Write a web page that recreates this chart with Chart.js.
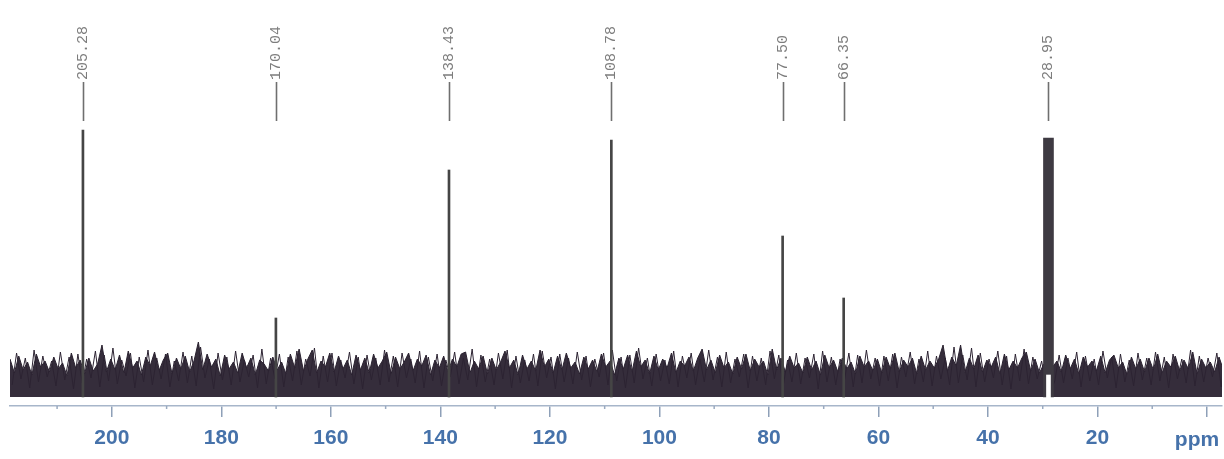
<!doctype html>
<html lang="en">
<head>
  <meta charset="utf-8">
  <title>13C NMR spectrum</title>
  <style>
    html, body { margin: 0; padding: 0; background: #fff; }
    #spectrum { display: block; }
  </style>
</head>
<body>
  <canvas id="spectrum" width="1224" height="459"></canvas>

  <script src="https://cdn.jsdelivr.net/npm/chart.js@4/dist/chart.umd.min.js"></script>
  <script>
  // peak positions (ppm) and heights
  const peakPpm    = [205.28, 170.04, 138.43, 108.78, 77.50, 66.35];
  const peakHeight = [267, 79, 227, 257, 161, 99];
  const peakLabels = ['205.28', '170.04', '138.43', '108.78', '77.50', '66.35', '28.95'];

  // the broad signal near 29 ppm
  const bigPpm = 28.95;
  const bigHeight = 259;
  const bigGapTop = 22;   // white notch under it

  // baseline noise, sampled every noiseStep ppm from noiseStart downwards
  const noiseStart = 218.6;
  const noiseStep = 0.8;
  // envelope of the dark band
  const noise = [
    38,24,41,27,35,22,43,30,36,25,40,28,34,21,44,29,37,23,39,26,
    33,52,25,38,27,42,24,46,29,36,22,40,31,45,26,37,44,23,39,28,
    41,25,36,55,27,43,30,38,21,42,28,35,24,44,29,39,22,37,33,26,
    40,27,35,23,43,29,48,26,38,47,24,36,30,44,25,41,28,37,22,42,
    27,39,24,43,29,36,45,23,40,28,35,44,26,38,31,42,22,37,29,41,
    25,38,30,43,45,24,36,28,41,23,39,27,35,46,29,37,22,42,28,36,
    26,47,30,38,24,41,27,44,29,35,23,40,28,37,25,43,30,36,22,39,
    28,42,25,46,30,37,23,41,27,38,29,44,24,36,31,40,26,39,48,27,
    37,24,42,29,35,23,40,28,43,26,38,30,36,22,48,27,39,25,41,29,
    34,24,40,27,36,22,42,29,37,25,39,28,35,23,41,30,36,26,38,24,
    40,28,44,25,37,30,39,23,41,27,36,29,38,52,26,40,31,52,24,39,
    28,42,25,37,30,40,23,43,27,36,29,39,45,26,38,24,33,10,30,36,
    25,42,28,38,23,40,30,36,26,41,24,37,42,29,35,22,40,28,38,25,
    39,27,43,24,36,30,41,26,37,28,45,23,38,29,35,25,40,27,36,30
  ];
  // in-between samples (half a step later), drawn as a plain trace
  const noiseMid = [
    12,44,18,39,9,47,15,41,20,36,11,45,17,40,8,43,14,38,19,46,
    10,42,16,49,13,37,21,44,9,40,15,47,12,39,18,43,10,36,16,45,
    14,41,11,50,19,38,8,44,17,40,12,46,15,37,20,42,9,48,13,39,
    18,43,10,40,16,46,12,38,21,49,9,41,15,44,11,37,19,45,13,40,
    8,42,17,39,12,47,15,41,10,44,19,38,14,46,9,40,16,43,11,37,
    20,45,13,39,17,48,10,42,15,38,12,44,18,47,9,41,14,37,16,43,
    11,46,19,40,8,43,15,39,13,45,17,41,10,38,20,44,12,47,16,40,
    9,42,14,49,18,39,11,43,16,37,13,46,10,41,19,44,12,38,15,47,
    17,40,10,45,14,38,20,43,9,41,16,39,12,46,18,42,11,37,15,44,
    13,39,19,43,8,46,15,40,12,38,17,44,10,42,14,47,18,39,11,41,
    16,43,9,40,20,45,13,38,15,46,11,41,18,39,12,50,14,42,17,49,
    10,44,15,38,19,46,12,41,8,43,16,48,13,40,18,36,12,5,16,42,
    14,39,18,45,10,41,16,38,12,46,19,40,9,43,15,37,11,44,17,39,
    12,45,16,40,9,43,18,38,14,47,11,41,15,39,20,44,10,40,13,46
  ];

  const majorTicks = [200, 180, 160, 140, 120, 100, 80, 60, 40, 20, 0];
  const minorTicks = [210, 190, 170, 150, 130, 110, 90, 70, 50, 30, 10];
  const unitLabel = 'ppm';

  const noiseData = noise.map((v, i) => ({ x: noiseStart - i * noiseStep, y: v }));
  const noiseMidData = noiseMid.map((v, i) => ({ x: noiseStart - (i + 0.5) * noiseStep, y: v }));
  const peakData = peakPpm.map((p, i) => ({ x: p, y: peakHeight[i] }));
  const labelPpm = peakPpm.concat([bigPpm]);

  const tickFont = { family: 'Liberation Sans, Arial, sans-serif', size: 21, weight: 'bold' };
  const tickColor = '#4672aa';

  const decorations = {
    id: 'decorations',
    afterDraw(chart) {
      const ctx = chart.ctx;
      const xs = chart.scales.x;
      const top = chart.chartArea.top;
      ctx.save();

      // minor ticks on the axis
      ctx.strokeStyle = '#9aaac0';
      ctx.lineWidth = 1.5;
      minorTicks.forEach(v => {
        const px = xs.getPixelForValue(v);
        ctx.beginPath();
        ctx.moveTo(px, xs.top);
        ctx.lineTo(px, xs.top + 3);
        ctx.stroke();
      });

      // axis unit where the 0 label would be, on the number baseline
      ctx.fillStyle = tickColor;
      ctx.font = 'bold 21px "Liberation Sans", Arial, sans-serif';
      ctx.textAlign = 'center';
      ctx.textBaseline = 'alphabetic';
      ctx.fillText(unitLabel, xs.getPixelForValue(0) - 10, xs.top + 40);

      // peak labels: short leader line plus rotated value
      ctx.strokeStyle = '#6f6f6f';
      ctx.lineWidth = 1.6;
      ctx.fillStyle = '#7d7d7d';
      ctx.font = '15px "Liberation Mono", "DejaVu Sans Mono", monospace';
      labelPpm.forEach((p, i) => {
        const px = Math.round(xs.getPixelForValue(p)) + 0.5;
        ctx.beginPath();
        ctx.moveTo(px, top - 15);
        ctx.lineTo(px, top + 24);
        ctx.stroke();
        ctx.save();
        ctx.translate(px, top - 17);
        ctx.rotate(-Math.PI / 2);
        ctx.textAlign = 'left';
        ctx.textBaseline = 'middle';
        ctx.fillText(peakLabels[i], 0, 0);
        ctx.restore();
      });
      ctx.restore();
    }
  };

  new Chart(document.getElementById('spectrum'), {
    type: 'line',
    data: {
      datasets: [
        {
          type: 'bar',
          data: [{ x: bigPpm, y: [-3, bigGapTop] }],
          backgroundColor: '#ffffff',
          barThickness: 4,
          grouped: false,
          order: 0
        },
        {
          type: 'bar',
          data: [{ x: bigPpm, y: bigHeight }],
          backgroundColor: '#3e3a42',
          barThickness: 10,
          grouped: false,
          order: 1
        },
        {
          type: 'bar',
          data: peakData,
          backgroundColor: '#454545',
          barThickness: 2,
          grouped: false,
          order: 2
        },
        {
          type: 'line',
          data: noiseMidData,
          borderColor: '#2c2332',
          borderWidth: 1,
          pointRadius: 0,
          tension: 0,
          fill: false,
          order: 3
        },
        {
          type: 'line',
          data: noiseData,
          borderColor: '#2a2230',
          backgroundColor: '#352d3b',
          borderWidth: 1,
          pointRadius: 0,
          tension: 0,
          fill: 'origin',
          order: 4
        }
      ]
    },
    options: {
      responsive: false,
      animation: false,
      layout: { padding: { top: 97, left: 10, right: 2, bottom: 0 } },
      plugins: { legend: { display: false }, tooltip: { enabled: false } },
      scales: {
        x: {
          type: 'linear',
          reverse: true,
          min: -2.74,
          max: 218.6,
          offset: false,
          afterBuildTicks: scale => { scale.ticks = majorTicks.map(v => ({ value: v })); },
          afterFit: scale => { scale.height = 53; },
          ticks: {
            autoSkip: false,
            maxRotation: 0,
            padding: 9,
            color: tickColor,
            font: tickFont,
            callback: v => (v === 0 ? '' : String(v))
          },
          grid: { offset: false, drawOnChartArea: false, drawTicks: true, tickLength: 11, color: '#8ea0b8', lineWidth: 1.5 },
          border: { color: '#a7b6ca', width: 1.5 }
        },
        y: {
          display: false,
          min: -9,
          max: 300
        }
      }
    },
    plugins: [decorations]
  });
  </script>
</body>
</html>
